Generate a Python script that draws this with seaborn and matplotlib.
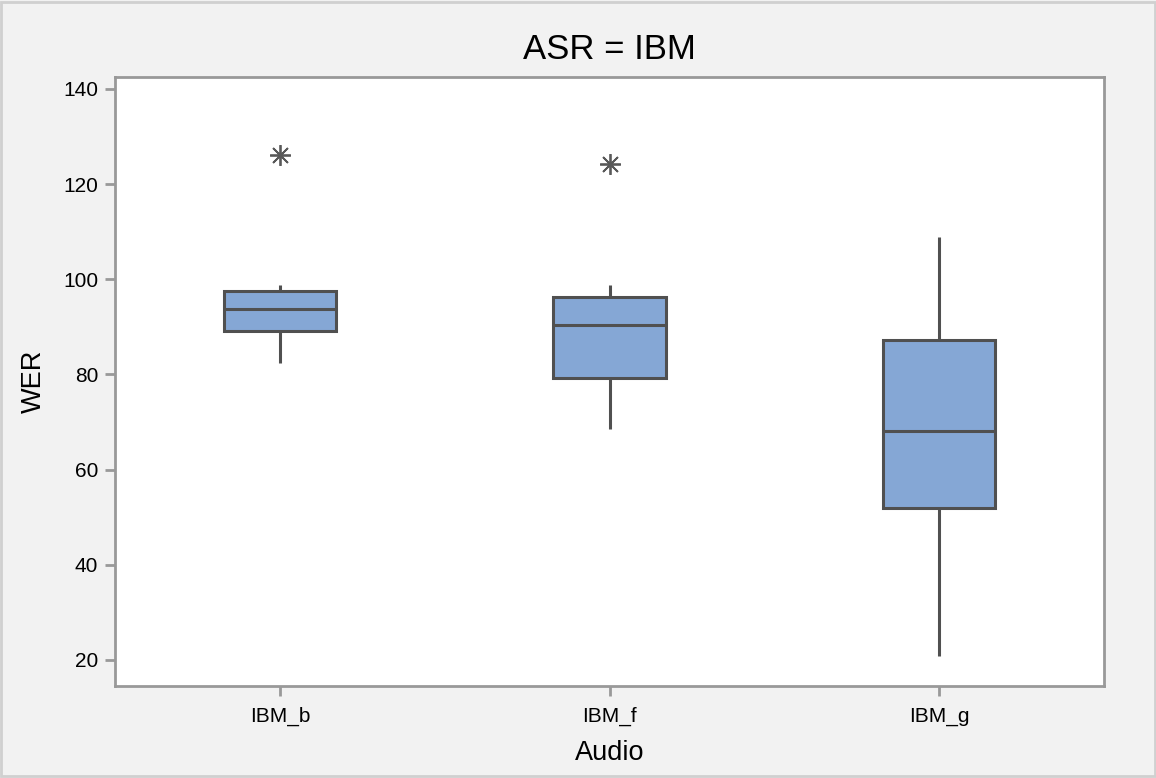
import seaborn as sns
import matplotlib.pyplot as plt
import matplotlib.patches as mpatches
import pandas as pd

# Valores (resumo de cinco números + outliers)
categorias = ['IBM_b', 'IBM_f', 'IBM_g']
whisker_baixo = [82.3, 68.5, 20.7]
q1 = [89.2, 79.2, 51.9]
mediana = [93.8, 90.4, 68.1]
q3 = [97.6, 96.3, 87.2]
whisker_alto = [98.7, 98.8, 108.9]
outliers = [[126.1], [124.2], []]

# Montando uma tabela com as amostras que reproduzem os quartis
linhas = []
for i, cat in enumerate(categorias):
    valores = [whisker_baixo[i], q1[i], q1[i], mediana[i], mediana[i],
               q3[i], q3[i], whisker_alto[i]]
    valores += outliers[i] if outliers[i] else [whisker_alto[i]]
    for v in valores:
        linhas.append({'Audio': cat, 'WER': v})
df = pd.DataFrame(linhas)

sns.set_style('white')
plt.rcParams['font.family'] = ['Liberation Sans', 'DejaVu Sans']
plt.rcParams['text.color'] = 'black'
plt.rcParams['axes.labelcolor'] = 'black'
plt.rcParams['xtick.color'] = 'black'
plt.rcParams['ytick.color'] = 'black'

fig = plt.figure(figsize=(11.56, 7.78), dpi=100, facecolor='#f2f2f2')
ax = fig.add_axes([0.0995, 0.1183, 0.8555, 0.7827])

cor_borda = '#505050'
sns.boxplot(x='Audio', y='WER', data=df, ax=ax, order=categorias,
            color='#85a7d5', saturation=1, width=0.34, whis=1.5,
            linewidth=2.2, linecolor=cor_borda,
            boxprops={'edgecolor': cor_borda},
            medianprops={'color': cor_borda},
            whiskerprops={'color': cor_borda},
            capprops={'visible': False},
            flierprops={'marker': (8, 2, 0), 'markersize': 15,
                        'markeredgecolor': '#595959', 'markeredgewidth': 1.3})

ax.set_xlim(-0.5, 2.5)
ax.set_ylim(14.5, 142.5)
ax.set_yticks([20, 40, 60, 80, 100, 120, 140])
ax.set_title('ASR = IBM', fontsize=25, pad=13, color='black')
ax.set_xlabel('Audio', fontsize=19.5, labelpad=10)
ax.set_ylabel('WER', fontsize=19.5, labelpad=12)
ax.tick_params(axis='both', labelsize=15, length=7, width=2,
               color='#999999', labelcolor='black', direction='out')
ax.tick_params(axis='both', left=True, bottom=True)
ax.tick_params(axis='x', pad=8)
ax.tick_params(axis='y', pad=5)
for lado in ax.spines.values():
    lado.set_color('#999999')
    lado.set_linewidth(2)
ax.set_facecolor('white')

# Moldura clara ao redor da figura
fig.patches.append(mpatches.Rectangle((0.001, 0.002), 0.998, 0.996,
                                      transform=fig.transFigure, fill=False,
                                      edgecolor='#d0d0d0', linewidth=2))

fig.savefig('out.png', dpi=100, facecolor='#f2f2f2')
